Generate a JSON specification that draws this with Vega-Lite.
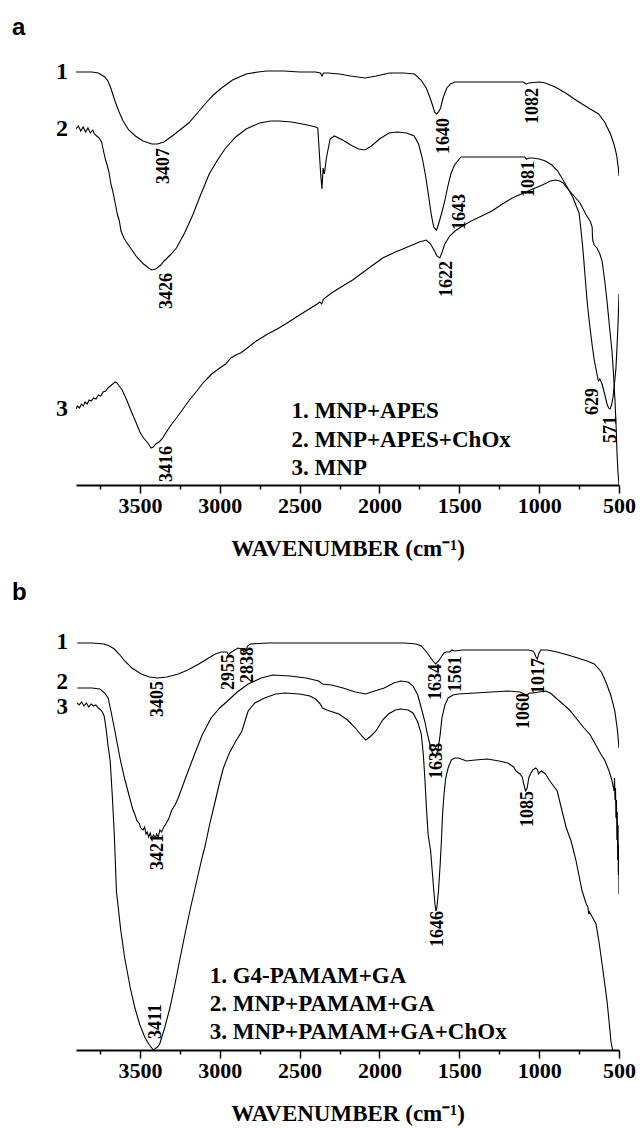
{
  "$schema": "https://vega.github.io/schema/vega-lite/v6.json",
  "padding": {"left": 12, "top": 16, "right": 5, "bottom": 2},
  "background": "white",
  "bounds": "flush",
  "spacing": 135,
  "config": {
    "view": {"stroke": null},
    "axis": {
      "grid": false,
      "domainColor": "black",
      "domainWidth": 1.8,
      "tickColor": "black",
      "tickWidth": 1.5,
      "labelFont": "Liberation Serif",
      "labelFontWeight": "bold",
      "labelFontSize": 22,
      "labelColor": "black",
      "titleFont": "Liberation Serif",
      "titleFontWeight": "bold",
      "titleFontSize": 23,
      "titleColor": "black"
    },
    "title": {"font": "Liberation Sans", "fontWeight": "bold", "fontSize": 24, "color": "black", "anchor": "start", "frame": "group", "dx": -64, "baseline": "alphabetic", "offset": 15}
  },
  "vconcat": [
    {
      "title": {"text": "a"},
      "width": 543,
      "height": 430,
      "layer": [
        {
          "data": {"values": [
            {"s":1,"w":3900,"t":413},{"s":1,"w":3800,"t":413},{"s":1,"w":3760,"t":412},{"s":1,"w":3720,"t":408},{"s":1,"w":3700,"t":404},{"s":1,"w":3680,"t":396},{"s":1,"w":3656,"t":384},{"s":1,"w":3630,"t":373},{"s":1,"w":3605,"t":364},{"s":1,"w":3570,"t":355},{"s":1,"w":3528,"t":349},{"s":1,"w":3480,"t":344},{"s":1,"w":3425,"t":341},{"s":1,"w":3390,"t":341},{"s":1,"w":3350,"t":343},{"s":1,"w":3297,"t":349},{"s":1,"w":3250,"t":355},{"s":1,"w":3194,"t":362},{"s":1,"w":3140,"t":372},{"s":1,"w":3092,"t":381},{"s":1,"w":3040,"t":390},{"s":1,"w":2989,"t":397},{"s":1,"w":2920,"t":405},{"s":1,"w":2835,"t":411},{"s":1,"w":2760,"t":413},{"s":1,"w":2707,"t":414},{"s":1,"w":2600,"t":414},{"s":1,"w":2500,"t":413},{"s":1,"w":2400,"t":413},{"s":1,"w":2370,"t":412},{"s":1,"w":2360,"t":409},{"s":1,"w":2350,"t":412},{"s":1,"w":2322,"t":412},{"s":1,"w":2250,"t":411},{"s":1,"w":2180,"t":409},{"s":1,"w":2091,"t":407},{"s":1,"w":2020,"t":409},{"s":1,"w":1937,"t":412},{"s":1,"w":1850,"t":412},{"s":1,"w":1780,"t":411},{"s":1,"w":1740,"t":405},{"s":1,"w":1707,"t":397},{"s":1,"w":1685,"t":388},{"s":1,"w":1668,"t":380},{"s":1,"w":1655,"t":373},{"s":1,"w":1643,"t":371},{"s":1,"w":1630,"t":373},{"s":1,"w":1617,"t":377},{"s":1,"w":1600,"t":388},{"s":1,"w":1578,"t":397},{"s":1,"w":1555,"t":401},{"s":1,"w":1527,"t":403},{"s":1,"w":1400,"t":403},{"s":1,"w":1200,"t":403},{"s":1,"w":1100,"t":403},{"s":1,"w":1082,"t":401},{"s":1,"w":1065,"t":402},{"s":1,"w":1000,"t":403},{"s":1,"w":961,"t":402},{"s":1,"w":900,"t":398},{"s":1,"w":834,"t":392},{"s":1,"w":780,"t":386},{"s":1,"w":731,"t":381},{"s":1,"w":680,"t":376},{"s":1,"w":628,"t":371},{"s":1,"w":590,"t":363},{"s":1,"w":553,"t":351},{"s":1,"w":530,"t":340},{"s":1,"w":515,"t":330},{"s":1,"w":505,"t":318},{"s":1,"w":500,"t":309},
            {"s":2,"w":3900,"t":356},{"s":2,"w":3885,"t":359},{"s":2,"w":3870,"t":354},{"s":2,"w":3855,"t":358},{"s":2,"w":3840,"t":353},{"s":2,"w":3825,"t":357},{"s":2,"w":3810,"t":352},{"s":2,"w":3795,"t":355},{"s":2,"w":3785,"t":351},{"s":2,"w":3770,"t":349},{"s":2,"w":3755,"t":347},{"s":2,"w":3740,"t":343},{"s":2,"w":3733,"t":338},{"s":2,"w":3725,"t":332},{"s":2,"w":3715,"t":325},{"s":2,"w":3705,"t":320},{"s":2,"w":3695,"t":314},{"s":2,"w":3680,"t":300},{"s":2,"w":3670,"t":294},{"s":2,"w":3656,"t":283},{"s":2,"w":3640,"t":270},{"s":2,"w":3630,"t":265},{"s":2,"w":3618,"t":254},{"s":2,"w":3600,"t":247},{"s":2,"w":3585,"t":243},{"s":2,"w":3554,"t":236},{"s":2,"w":3520,"t":228},{"s":2,"w":3477,"t":221},{"s":2,"w":3445,"t":217},{"s":2,"w":3426,"t":215},{"s":2,"w":3400,"t":216},{"s":2,"w":3370,"t":220},{"s":2,"w":3348,"t":224},{"s":2,"w":3310,"t":230},{"s":2,"w":3271,"t":237},{"s":2,"w":3220,"t":252},{"s":2,"w":3169,"t":270},{"s":2,"w":3120,"t":290},{"s":2,"w":3066,"t":311},{"s":2,"w":3010,"t":326},{"s":2,"w":2963,"t":337},{"s":2,"w":2900,"t":348},{"s":2,"w":2835,"t":356},{"s":2,"w":2750,"t":362},{"s":2,"w":2680,"t":364},{"s":2,"w":2630,"t":364},{"s":2,"w":2550,"t":363},{"s":2,"w":2450,"t":360},{"s":2,"w":2399,"t":358},{"s":2,"w":2386,"t":357},{"s":2,"w":2368,"t":311},{"s":2,"w":2360,"t":296},{"s":2,"w":2353,"t":317},{"s":2,"w":2345,"t":311},{"s":2,"w":2332,"t":327},{"s":2,"w":2309,"t":346},{"s":2,"w":2283,"t":349},{"s":2,"w":2230,"t":345},{"s":2,"w":2180,"t":340},{"s":2,"w":2130,"t":336},{"s":2,"w":2091,"t":335},{"s":2,"w":2050,"t":339},{"s":2,"w":2000,"t":346},{"s":2,"w":1940,"t":352},{"s":2,"w":1886,"t":353},{"s":2,"w":1830,"t":352},{"s":2,"w":1783,"t":349},{"s":2,"w":1755,"t":341},{"s":2,"w":1732,"t":327},{"s":2,"w":1712,"t":310},{"s":2,"w":1694,"t":291},{"s":2,"w":1675,"t":270},{"s":2,"w":1660,"t":258},{"s":2,"w":1650,"t":256},{"s":2,"w":1643,"t":255},{"s":2,"w":1635,"t":258},{"s":2,"w":1630,"t":261},{"s":2,"w":1610,"t":272},{"s":2,"w":1591,"t":284},{"s":2,"w":1570,"t":300},{"s":2,"w":1553,"t":311},{"s":2,"w":1530,"t":320},{"s":2,"w":1500,"t":326},{"s":2,"w":1489,"t":328},{"s":2,"w":1400,"t":328},{"s":2,"w":1300,"t":328},{"s":2,"w":1200,"t":328},{"s":2,"w":1090,"t":328},{"s":2,"w":1080,"t":326},{"s":2,"w":1060,"t":327},{"s":2,"w":1039,"t":327},{"s":2,"w":1000,"t":326},{"s":2,"w":961,"t":324},{"s":2,"w":920,"t":320},{"s":2,"w":884,"t":314},{"s":2,"w":850,"t":305},{"s":2,"w":807,"t":293},{"s":2,"w":787,"t":287},{"s":2,"w":770,"t":280},{"s":2,"w":750,"t":272},{"s":2,"w":738,"t":255},{"s":2,"w":725,"t":234},{"s":2,"w":712,"t":208},{"s":2,"w":700,"t":184},{"s":2,"w":685,"t":162},{"s":2,"w":669,"t":141},{"s":2,"w":655,"t":125},{"s":2,"w":638,"t":111},{"s":2,"w":629,"t":104},{"s":2,"w":620,"t":106},{"s":2,"w":606,"t":101},{"s":2,"w":590,"t":91},{"s":2,"w":575,"t":81},{"s":2,"w":565,"t":77},{"s":2,"w":556,"t":76},{"s":2,"w":547,"t":80},{"s":2,"w":538,"t":87},{"s":2,"w":528,"t":102},{"s":2,"w":519,"t":117},{"s":2,"w":512,"t":140},{"s":2,"w":506,"t":161},{"s":2,"w":500,"t":191},
            {"s":3,"w":3900,"t":76},{"s":3,"w":3890,"t":79},{"s":3,"w":3878,"t":77},{"s":3,"w":3866,"t":81},{"s":3,"w":3855,"t":79},{"s":3,"w":3843,"t":83},{"s":3,"w":3830,"t":81},{"s":3,"w":3818,"t":85},{"s":3,"w":3805,"t":84},{"s":3,"w":3790,"t":87},{"s":3,"w":3775,"t":86},{"s":3,"w":3760,"t":90},{"s":3,"w":3745,"t":89},{"s":3,"w":3730,"t":93},{"s":3,"w":3715,"t":94},{"s":3,"w":3700,"t":97},{"s":3,"w":3685,"t":99},{"s":3,"w":3670,"t":101},{"s":3,"w":3655,"t":103},{"s":3,"w":3643,"t":102},{"s":3,"w":3630,"t":99},{"s":3,"w":3615,"t":96},{"s":3,"w":3605,"t":93},{"s":3,"w":3580,"t":84},{"s":3,"w":3555,"t":74},{"s":3,"w":3528,"t":64},{"s":3,"w":3500,"t":53},{"s":3,"w":3477,"t":47},{"s":3,"w":3450,"t":42},{"s":3,"w":3430,"t":37},{"s":3,"w":3416,"t":38},{"s":3,"w":3400,"t":41},{"s":3,"w":3380,"t":43},{"s":3,"w":3361,"t":46},{"s":3,"w":3330,"t":54},{"s":3,"w":3300,"t":61},{"s":3,"w":3271,"t":67},{"s":3,"w":3230,"t":76},{"s":3,"w":3190,"t":85},{"s":3,"w":3143,"t":94},{"s":3,"w":3100,"t":103},{"s":3,"w":3050,"t":111},{"s":3,"w":3000,"t":117},{"s":3,"w":2963,"t":121},{"s":3,"w":2930,"t":127},{"s":3,"w":2900,"t":130},{"s":3,"w":2870,"t":132},{"s":3,"w":2835,"t":136},{"s":3,"w":2780,"t":143},{"s":3,"w":2700,"t":151},{"s":3,"w":2640,"t":156},{"s":3,"w":2578,"t":162},{"s":3,"w":2500,"t":170},{"s":3,"w":2440,"t":176},{"s":3,"w":2390,"t":181},{"s":3,"w":2373,"t":183},{"s":3,"w":2362,"t":181},{"s":3,"w":2350,"t":186},{"s":3,"w":2300,"t":192},{"s":3,"w":2230,"t":199},{"s":3,"w":2168,"t":205},{"s":3,"w":2100,"t":213},{"s":3,"w":2040,"t":220},{"s":3,"w":1980,"t":227},{"s":3,"w":1900,"t":233},{"s":3,"w":1809,"t":239},{"s":3,"w":1750,"t":243},{"s":3,"w":1707,"t":245},{"s":3,"w":1680,"t":241},{"s":3,"w":1655,"t":234},{"s":3,"w":1640,"t":229},{"s":3,"w":1622,"t":227},{"s":3,"w":1605,"t":234},{"s":3,"w":1591,"t":241},{"s":3,"w":1560,"t":249},{"s":3,"w":1527,"t":254},{"s":3,"w":1480,"t":259},{"s":3,"w":1425,"t":264},{"s":3,"w":1360,"t":269},{"s":3,"w":1296,"t":274},{"s":3,"w":1230,"t":281},{"s":3,"w":1168,"t":287},{"s":3,"w":1100,"t":292},{"s":3,"w":1039,"t":296},{"s":3,"w":980,"t":300},{"s":3,"w":930,"t":304},{"s":3,"w":897,"t":305},{"s":3,"w":870,"t":304},{"s":3,"w":850,"t":302},{"s":3,"w":820,"t":296},{"s":3,"w":787,"t":290},{"s":3,"w":744,"t":282},{"s":3,"w":705,"t":270},{"s":3,"w":681,"t":264},{"s":3,"w":668,"t":258},{"s":3,"w":666,"t":247},{"s":3,"w":663,"t":244},{"s":3,"w":655,"t":240},{"s":3,"w":638,"t":237},{"s":3,"w":620,"t":231},{"s":3,"w":606,"t":224},{"s":3,"w":590,"t":205},{"s":3,"w":575,"t":184},{"s":3,"w":560,"t":159},{"s":3,"w":544,"t":134},{"s":3,"w":534,"t":110},{"s":3,"w":525,"t":84},{"s":3,"w":518,"t":58},{"s":3,"w":513,"t":34},{"s":3,"w":507,"t":14},{"s":3,"w":500,"t":0}
          ]},
          "mark": {"type": "line", "color": "black", "strokeWidth": 1.1, "clip": true},
          "encoding": {
            "x": {"field": "w", "type": "quantitative", "scale": {"domain": [3900, 500], "nice": false, "zero": false},
                  "axis": {"title": "WAVENUMBER (cm⁻¹)", "values": [3750,3500,3250,3000,2750,2500,2250,2000,1750,1500,1250,1000,750,500], "format": "d", "labelExpr": "datum.value % 500 === 0 ? datum.label : ''", "labelOverlap": false, "labelFlush": false, "tickSize": {"condition": {"test": "datum.value % 500 === 0", "value": 8}, "value": 4}, "labelPadding": 2, "titlePadding": 21}},
            "y": {"field": "t", "type": "quantitative", "scale": {"domain": [0, 430], "nice": false, "zero": false}, "axis": null},
            "detail": {"field": "s"}
          }
        },
        {
          "data": {"values": [{"w":3900,"t":413,"label":"1"},{"w":3900,"t":356,"label":"2"},{"w":3900,"t":76,"label":"3"}]},
          "mark": {"type": "text", "align": "right", "baseline": "middle", "dx": -8, "font": "Liberation Serif", "fontWeight": "bold", "fontSize": 24, "color": "black"},
          "encoding": {"x": {"field": "w", "type": "quantitative"}, "y": {"field": "t", "type": "quantitative"}, "text": {"field": "label"}}
        },
        {
          "data": {"values": [{"w":3348,"t":337,"label":"3407"},{"w":1598,"t":367,"label":"1640"},{"w":1039,"t":397,"label":"1082"},{"w":3328,"t":212,"label":"3426"},{"w":1496,"t":291,"label":"1643"},{"w":1065,"t":324,"label":"1081"},{"w":1578,"t":224,"label":"1622"},{"w":3328,"t":39,"label":"3416"},{"w":662,"t":97,"label":"629"},{"w":550,"t":69,"label":"571"}]},
          "mark": {"type": "text", "angle": 270, "align": "right", "baseline": "middle", "font": "Liberation Serif", "fontWeight": "bold", "fontSize": 18, "color": "black"},
          "encoding": {"x": {"field": "w", "type": "quantitative"}, "y": {"field": "t", "type": "quantitative"}, "text": {"field": "label"}}
        },
        {
          "data": {"values": [{"w":2550,"t":67,"label":"1. MNP+APES"},{"w":2550,"t":38,"label":"2. MNP+APES+ChOx"},{"w":2550,"t":10,"label":"3. MNP"}]},
          "mark": {"type": "text", "align": "left", "baseline": "alphabetic", "font": "Liberation Serif", "fontWeight": "bold", "fontSize": 23, "color": "black"},
          "encoding": {"x": {"field": "w", "type": "quantitative"}, "y": {"field": "t", "type": "quantitative"}, "text": {"field": "label"}}
        }
      ]
    },
    {
      "title": {"text": "b"},
      "width": 543,
      "height": 430,
      "layer": [
        {
          "data": {"values": [
            {"s":1,"w":3892,"t":407},{"s":1,"w":3800,"t":407},{"s":1,"w":3724,"t":406},{"s":1,"w":3690,"t":404},{"s":1,"w":3660,"t":401},{"s":1,"w":3630,"t":396},{"s":1,"w":3595,"t":389},{"s":1,"w":3550,"t":382},{"s":1,"w":3492,"t":376},{"s":1,"w":3440,"t":373},{"s":1,"w":3389,"t":372},{"s":1,"w":3330,"t":373},{"s":1,"w":3260,"t":376},{"s":1,"w":3200,"t":380},{"s":1,"w":3131,"t":386},{"s":1,"w":3080,"t":391},{"s":1,"w":3028,"t":396},{"s":1,"w":2990,"t":398},{"s":1,"w":2955,"t":398},{"s":1,"w":2945,"t":395},{"s":1,"w":2935,"t":397},{"s":1,"w":2886,"t":402},{"s":1,"w":2860,"t":401},{"s":1,"w":2848,"t":398},{"s":1,"w":2838,"t":399},{"s":1,"w":2825,"t":404},{"s":1,"w":2809,"t":406},{"s":1,"w":2700,"t":407},{"s":1,"w":2615,"t":407},{"s":1,"w":2400,"t":407},{"s":1,"w":2200,"t":407},{"s":1,"w":2000,"t":407},{"s":1,"w":1841,"t":407},{"s":1,"w":1770,"t":406},{"s":1,"w":1738,"t":404},{"s":1,"w":1705,"t":398},{"s":1,"w":1687,"t":394},{"s":1,"w":1665,"t":389},{"s":1,"w":1648,"t":386},{"s":1,"w":1630,"t":389},{"s":1,"w":1609,"t":394},{"s":1,"w":1595,"t":397},{"s":1,"w":1583,"t":398},{"s":1,"w":1561,"t":398},{"s":1,"w":1545,"t":400},{"s":1,"w":1532,"t":399},{"s":1,"w":1480,"t":400},{"s":1,"w":1300,"t":400},{"s":1,"w":1100,"t":400},{"s":1,"w":1068,"t":400},{"s":1,"w":1040,"t":399},{"s":1,"w":1029,"t":397},{"s":1,"w":1020,"t":393},{"s":1,"w":1011,"t":391},{"s":1,"w":1003,"t":396},{"s":1,"w":990,"t":400},{"s":1,"w":950,"t":400},{"s":1,"w":887,"t":398},{"s":1,"w":820,"t":395},{"s":1,"w":758,"t":392},{"s":1,"w":700,"t":389},{"s":1,"w":655,"t":386},{"s":1,"w":610,"t":378},{"s":1,"w":577,"t":366},{"s":1,"w":550,"t":354},{"s":1,"w":526,"t":339},{"s":1,"w":510,"t":320},{"s":1,"w":500,"t":302},
            {"s":2,"w":3892,"t":362},{"s":2,"w":3800,"t":362},{"s":2,"w":3750,"t":361},{"s":2,"w":3720,"t":357},{"s":2,"w":3699,"t":352},{"s":2,"w":3680,"t":338},{"s":2,"w":3660,"t":322},{"s":2,"w":3640,"t":305},{"s":2,"w":3621,"t":289},{"s":2,"w":3595,"t":271},{"s":2,"w":3570,"t":256},{"s":2,"w":3545,"t":241},{"s":2,"w":3530,"t":235},{"s":2,"w":3518,"t":229},{"s":2,"w":3505,"t":227},{"s":2,"w":3495,"t":222},{"s":2,"w":3480,"t":220},{"s":2,"w":3470,"t":223},{"s":2,"w":3462,"t":216},{"s":2,"w":3454,"t":218},{"s":2,"w":3445,"t":213},{"s":2,"w":3435,"t":217},{"s":2,"w":3425,"t":211},{"s":2,"w":3415,"t":215},{"s":2,"w":3402,"t":212},{"s":2,"w":3395,"t":216},{"s":2,"w":3385,"t":213},{"s":2,"w":3375,"t":220},{"s":2,"w":3365,"t":218},{"s":2,"w":3350,"t":223},{"s":2,"w":3338,"t":226},{"s":2,"w":3320,"t":231},{"s":2,"w":3300,"t":240},{"s":2,"w":3280,"t":245},{"s":2,"w":3260,"t":252},{"s":2,"w":3230,"t":265},{"s":2,"w":3200,"t":278},{"s":2,"w":3157,"t":296},{"s":2,"w":3110,"t":315},{"s":2,"w":3054,"t":332},{"s":2,"w":3000,"t":342},{"s":2,"w":2951,"t":349},{"s":2,"w":2890,"t":358},{"s":2,"w":2822,"t":366},{"s":2,"w":2740,"t":372},{"s":2,"w":2667,"t":375},{"s":2,"w":2560,"t":374},{"s":2,"w":2460,"t":372},{"s":2,"w":2380,"t":369},{"s":2,"w":2357,"t":366},{"s":2,"w":2300,"t":365},{"s":2,"w":2228,"t":362},{"s":2,"w":2150,"t":358},{"s":2,"w":2086,"t":356},{"s":2,"w":2030,"t":359},{"s":2,"w":1970,"t":362},{"s":2,"w":1910,"t":367},{"s":2,"w":1867,"t":369},{"s":2,"w":1820,"t":368},{"s":2,"w":1790,"t":364},{"s":2,"w":1760,"t":355},{"s":2,"w":1738,"t":342},{"s":2,"w":1715,"t":328},{"s":2,"w":1700,"t":316},{"s":2,"w":1680,"t":303},{"s":2,"w":1666,"t":296},{"s":2,"w":1650,"t":294},{"s":2,"w":1635,"t":299},{"s":2,"w":1620,"t":315},{"s":2,"w":1609,"t":332},{"s":2,"w":1590,"t":345},{"s":2,"w":1570,"t":352},{"s":2,"w":1540,"t":355},{"s":2,"w":1506,"t":356},{"s":2,"w":1400,"t":357},{"s":2,"w":1300,"t":358},{"s":2,"w":1196,"t":359},{"s":2,"w":1120,"t":358},{"s":2,"w":1093,"t":356},{"s":2,"w":1075,"t":355},{"s":2,"w":1060,"t":357},{"s":2,"w":1042,"t":357},{"s":2,"w":1000,"t":358},{"s":2,"w":960,"t":359},{"s":2,"w":930,"t":357},{"s":2,"w":880,"t":350},{"s":2,"w":810,"t":340},{"s":2,"w":719,"t":322},{"s":2,"w":680,"t":315},{"s":2,"w":614,"t":296},{"s":2,"w":590,"t":290},{"s":2,"w":562,"t":279},{"s":2,"w":545,"t":270},{"s":2,"w":531,"t":259},{"s":2,"w":528,"t":272},{"s":2,"w":525,"t":250},{"s":2,"w":522,"t":262},{"s":2,"w":519,"t":232},{"s":2,"w":516,"t":250},{"s":2,"w":513,"t":210},{"s":2,"w":511,"t":238},{"s":2,"w":508,"t":190},{"s":2,"w":506,"t":225},{"s":2,"w":504,"t":175},{"s":2,"w":502,"t":205},{"s":2,"w":500,"t":156},
            {"s":3,"w":3892,"t":347},{"s":3,"w":3880,"t":345},{"s":3,"w":3865,"t":348},{"s":3,"w":3850,"t":344},{"s":3,"w":3835,"t":347},{"s":3,"w":3820,"t":343},{"s":3,"w":3805,"t":346},{"s":3,"w":3790,"t":344},{"s":3,"w":3776,"t":345},{"s":3,"w":3760,"t":342},{"s":3,"w":3745,"t":340},{"s":3,"w":3735,"t":338},{"s":3,"w":3724,"t":334},{"s":3,"w":3712,"t":322},{"s":3,"w":3700,"t":305},{"s":3,"w":3686,"t":289},{"s":3,"w":3673,"t":255},{"s":3,"w":3660,"t":215},{"s":3,"w":3647,"t":159},{"s":3,"w":3620,"t":120},{"s":3,"w":3595,"t":92},{"s":3,"w":3560,"t":62},{"s":3,"w":3531,"t":42},{"s":3,"w":3500,"t":25},{"s":3,"w":3467,"t":12},{"s":3,"w":3440,"t":5},{"s":3,"w":3415,"t":0},{"s":3,"w":3390,"t":3},{"s":3,"w":3376,"t":6},{"s":3,"w":3345,"t":22},{"s":3,"w":3312,"t":42},{"s":3,"w":3280,"t":66},{"s":3,"w":3248,"t":92},{"s":3,"w":3215,"t":118},{"s":3,"w":3183,"t":142},{"s":3,"w":3140,"t":172},{"s":3,"w":3105,"t":196},{"s":3,"w":3093,"t":203},{"s":3,"w":3060,"t":228},{"s":3,"w":3028,"t":249},{"s":3,"w":3000,"t":268},{"s":3,"w":2977,"t":282},{"s":3,"w":2940,"t":297},{"s":3,"w":2899,"t":309},{"s":3,"w":2861,"t":319},{"s":3,"w":2840,"t":330},{"s":3,"w":2822,"t":339},{"s":3,"w":2780,"t":347},{"s":3,"w":2719,"t":352},{"s":3,"w":2650,"t":356},{"s":3,"w":2590,"t":357},{"s":3,"w":2500,"t":356},{"s":3,"w":2435,"t":354},{"s":3,"w":2400,"t":351},{"s":3,"w":2370,"t":346},{"s":3,"w":2357,"t":342},{"s":3,"w":2330,"t":340},{"s":3,"w":2254,"t":336},{"s":3,"w":2200,"t":330},{"s":3,"w":2151,"t":322},{"s":3,"w":2110,"t":314},{"s":3,"w":2086,"t":310},{"s":3,"w":2060,"t":313},{"s":3,"w":2022,"t":319},{"s":3,"w":1980,"t":330},{"s":3,"w":1944,"t":336},{"s":3,"w":1900,"t":340},{"s":3,"w":1867,"t":341},{"s":3,"w":1820,"t":340},{"s":3,"w":1790,"t":337},{"s":3,"w":1760,"t":328},{"s":3,"w":1738,"t":316},{"s":3,"w":1725,"t":295},{"s":3,"w":1715,"t":270},{"s":3,"w":1705,"t":240},{"s":3,"w":1695,"t":215},{"s":3,"w":1680,"t":200},{"s":3,"w":1670,"t":180},{"s":3,"w":1660,"t":160},{"s":3,"w":1652,"t":145},{"s":3,"w":1646,"t":139},{"s":3,"w":1640,"t":143},{"s":3,"w":1630,"t":160},{"s":3,"w":1620,"t":185},{"s":3,"w":1612,"t":209},{"s":3,"w":1605,"t":235},{"s":3,"w":1596,"t":255},{"s":3,"w":1585,"t":272},{"s":3,"w":1570,"t":282},{"s":3,"w":1550,"t":290},{"s":3,"w":1530,"t":292},{"s":3,"w":1506,"t":292},{"s":3,"w":1454,"t":289},{"s":3,"w":1400,"t":290},{"s":3,"w":1325,"t":291},{"s":3,"w":1250,"t":289},{"s":3,"w":1196,"t":287},{"s":3,"w":1160,"t":283},{"s":3,"w":1145,"t":279},{"s":3,"w":1120,"t":276},{"s":3,"w":1106,"t":273},{"s":3,"w":1095,"t":265},{"s":3,"w":1085,"t":259},{"s":3,"w":1075,"t":262},{"s":3,"w":1065,"t":272},{"s":3,"w":1055,"t":276},{"s":3,"w":1040,"t":280},{"s":3,"w":1021,"t":282},{"s":3,"w":1010,"t":280},{"s":3,"w":1003,"t":276},{"s":3,"w":995,"t":278},{"s":3,"w":984,"t":279},{"s":3,"w":960,"t":276},{"s":3,"w":933,"t":269},{"s":3,"w":887,"t":259},{"s":3,"w":861,"t":242},{"s":3,"w":830,"t":222},{"s":3,"w":800,"t":209},{"s":3,"w":770,"t":190},{"s":3,"w":731,"t":159},{"s":3,"w":705,"t":146},{"s":3,"w":695,"t":143},{"s":3,"w":690,"t":136},{"s":3,"w":685,"t":138},{"s":3,"w":660,"t":131},{"s":3,"w":644,"t":126},{"s":3,"w":625,"t":108},{"s":3,"w":606,"t":86},{"s":3,"w":590,"t":67},{"s":3,"w":575,"t":49},{"s":3,"w":560,"t":25},{"s":3,"w":550,"t":8},{"s":3,"w":540,"t":0}
          ]},
          "mark": {"type": "line", "color": "black", "strokeWidth": 1.1, "clip": true},
          "encoding": {
            "x": {"field": "w", "type": "quantitative", "scale": {"domain": [3900, 500], "nice": false, "zero": false},
                  "axis": {"title": "WAVENUMBER (cm⁻¹)", "values": [3750,3500,3250,3000,2750,2500,2250,2000,1750,1500,1250,1000,750,500], "format": "d", "labelExpr": "datum.value % 500 === 0 ? datum.label : ''", "labelOverlap": false, "labelFlush": false, "tickSize": {"condition": {"test": "datum.value % 500 === 0", "value": 8}, "value": 4}, "labelPadding": 2, "titlePadding": 21}},
            "y": {"field": "t", "type": "quantitative", "scale": {"domain": [0, 430], "nice": false, "zero": false}, "axis": null},
            "detail": {"field": "s"}
          }
        },
        {
          "data": {"values": [{"w":3900,"t":408,"label":"1"},{"w":3900,"t":368,"label":"2"},{"w":3900,"t":343,"label":"3"}]},
          "mark": {"type": "text", "align": "right", "baseline": "middle", "dx": -8, "font": "Liberation Serif", "fontWeight": "bold", "fontSize": 23, "color": "black"},
          "encoding": {"x": {"field": "w", "type": "quantitative"}, "y": {"field": "t", "type": "quantitative"}, "text": {"field": "label"}}
        },
        {
          "data": {"values": [{"w":3384,"t":369,"label":"3405"},{"w":2945,"t":396,"label":"2955"},{"w":2822,"t":403,"label":"2838"},{"w":1648,"t":386,"label":"1634"},{"w":1519,"t":394,"label":"1561"},{"w":1003,"t":392,"label":"1017"},{"w":1093,"t":357,"label":"1060"},{"w":1640,"t":307,"label":"1638"},{"w":1068,"t":259,"label":"1085"},{"w":3389,"t":216,"label":"3421"},{"w":1635,"t":139,"label":"1646"},{"w":3402,"t":46,"label":"3411"}]},
          "mark": {"type": "text", "angle": 270, "align": "right", "baseline": "middle", "font": "Liberation Serif", "fontWeight": "bold", "fontSize": 18, "color": "black"},
          "encoding": {"x": {"field": "w", "type": "quantitative"}, "y": {"field": "t", "type": "quantitative"}, "text": {"field": "label"}}
        },
        {
          "data": {"values": [{"w":3063,"t":67,"label":"1. G4-PAMAM+GA"},{"w":3063,"t":39,"label":"2. MNP+PAMAM+GA"},{"w":3063,"t":11,"label":"3. MNP+PAMAM+GA+ChOx"}]},
          "mark": {"type": "text", "align": "left", "baseline": "alphabetic", "font": "Liberation Serif", "fontWeight": "bold", "fontSize": 23, "color": "black"},
          "encoding": {"x": {"field": "w", "type": "quantitative"}, "y": {"field": "t", "type": "quantitative"}, "text": {"field": "label"}}
        }
      ]
    }
  ]
}
